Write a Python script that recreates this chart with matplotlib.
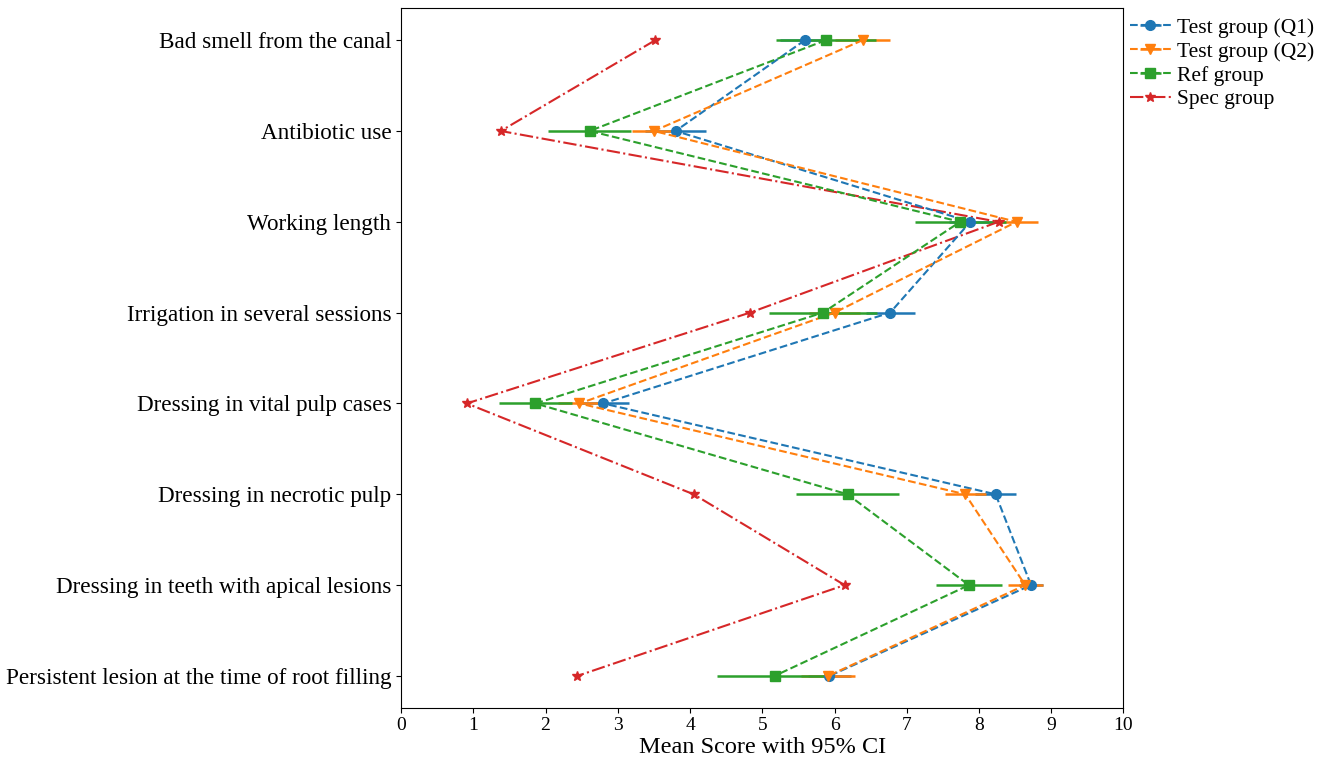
import matplotlib
matplotlib.use("Agg")
import matplotlib.pyplot as plt
import numpy as np

plt.rcParams['font.family'] = ['Liberation Serif', 'DejaVu Serif']

categories = [
    "Bad smell from the canal",
    "Antibiotic use",
    "Working length",
    "Irrigation in several sessions",
    "Dressing in vital pulp cases",
    "Dressing in necrotic pulp",
    "Dressing in teeth with apical lesions",
    "Persistent lesion at the time of root filling",
]

q1_mean = [5.59, 3.80, 7.88, 6.77, 2.80, 8.23, 8.72, 5.93]
q1_ci = [0.35, 0.42, 0.30, 0.34, 0.35, 0.28, 0.17, 0.30]

q2_mean = [6.39, 3.50, 8.52, 6.00, 2.47, 7.81, 8.64, 5.91]
q2_ci = [0.38, 0.30, 0.29, 0.35, 0.30, 0.28, 0.24, 0.37]

ref_mean = [5.88, 2.61, 7.74, 5.84, 1.86, 6.18, 7.86, 5.17]
ref_ci = [0.69, 0.57, 0.63, 0.75, 0.50, 0.71, 0.46, 0.79]

spec_mean = [3.52, 1.38, 8.27, 4.83, 0.91, 4.05, 6.14, 2.44]

labels = ["Test group (Q1)", "Test group (Q2)", "Ref group", "Spec group"]
colors = ["#1f77b4", "#ff7f0e", "#2ca02c", "#d62728"]

fig = plt.figure(figsize=(13.28, 7.61), dpi=100)
ax = fig.add_axes([0.302, 0.070, 0.544, 0.919])

y = np.arange(len(categories))

h1 = ax.errorbar(q1_mean, y, xerr=q1_ci, fmt='o--', color=colors[0], ms=7,
                 elinewidth=1.8, lw=1.5, label=labels[0])
h2 = ax.errorbar(q2_mean, y, xerr=q2_ci, fmt='v--', color=colors[1], ms=7,
                 elinewidth=1.8, lw=1.5, label=labels[1])
h3 = ax.errorbar(ref_mean, y, xerr=ref_ci, fmt='s--', color=colors[2], ms=7,
                 elinewidth=1.8, lw=1.5, label=labels[2])
h4, = ax.plot(spec_mean, y, '*-.', color=colors[3], ms=7.5, lw=1.5, label=labels[3])

ax.set_yticks(y)
ax.set_yticklabels(categories, fontsize=16.7)
ax.set_ylim(len(categories) - 1 + 0.35, -0.35)
ax.set_xlim(0, 10)
ax.set_xticks(range(0, 11))
ax.tick_params(axis='x', labelsize=14)
ax.set_xlabel("Mean Score with 95% CI", fontsize=17.5, labelpad=2)

ax.legend([h1, h2, h3, h4], labels, loc='upper left', bbox_to_anchor=(1.003, 0.993),
          frameon=False, fontsize=15.5, handlelength=1.9, handletextpad=0.3,
          borderaxespad=0.0, borderpad=0.2, labelspacing=0.18)

fig.savefig("out.png", dpi=100)
